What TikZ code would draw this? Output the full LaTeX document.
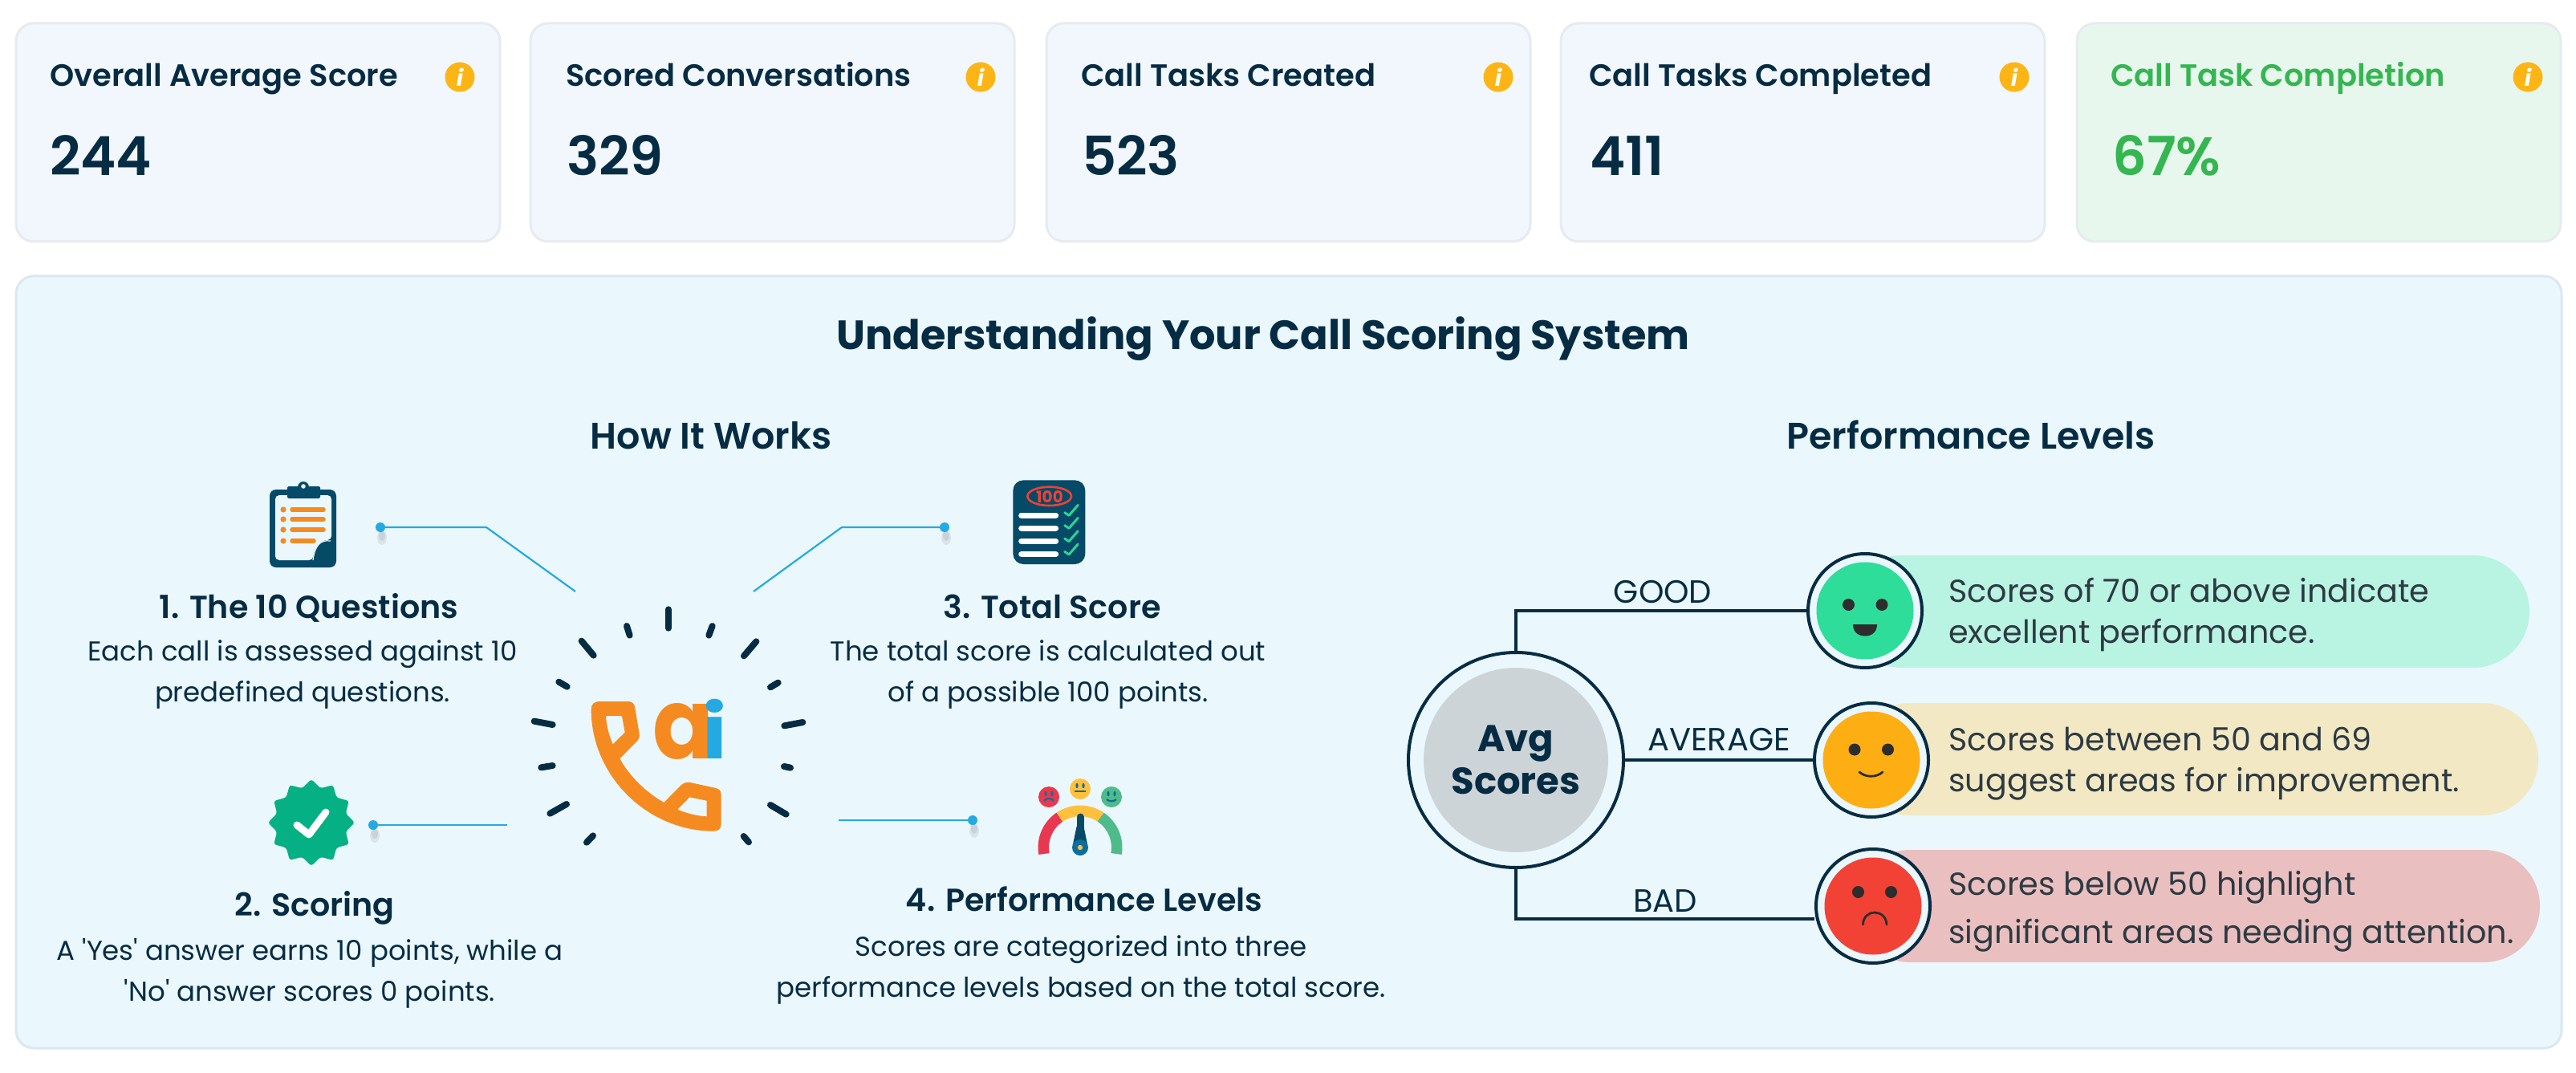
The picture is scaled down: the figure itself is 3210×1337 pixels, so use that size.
\documentclass[tikz,border=0pt]{standalone}
\usepackage{fontspec}
\usepackage{graphicx}
\setmainfont{Poppins}
\newfontfamily\semifont{Poppins SemiBold}
\newfontfamily\medfont{Poppins Medium}
\usetikzlibrary{shapes.geometric,shapes.misc}
\definecolor{ink}{HTML}{062C43}
\definecolor{deep}{HTML}{054A67}
\definecolor{cardfill}{HTML}{F2F7FE}
\definecolor{cardline}{HTML}{E6EBF0}
\definecolor{greenfill}{HTML}{E8F7ED}
\definecolor{greenink}{HTML}{34B650}
\definecolor{panelfill}{HTML}{EAF7FD}
\definecolor{panelline}{HTML}{DBE8EF}
\definecolor{amber}{HTML}{FDB515}
\definecolor{orng}{HTML}{F58B20}
\definecolor{sky}{HTML}{25A9E2}
\definecolor{emer}{HTML}{05B084}
\definecolor{redd}{HTML}{EF4136}
\definecolor{mint}{HTML}{2ED397}
\definecolor{gred}{HTML}{E8384F}
\definecolor{gyel}{HTML}{FFC13D}
\definecolor{ggrn}{HTML}{4FBB8A}
\definecolor{hub}{HTML}{0A6E9E}
\definecolor{facedark}{HTML}{2D2D2D}
\definecolor{bodyink}{HTML}{2D3A42}
\definecolor{pillgood}{RGB}{185,243,226}
\definecolor{pillavg}{RGB}{242,232,196}
\definecolor{pillbad}{RGB}{234,191,192}
\definecolor{hubgray}{RGB}{205,212,216}
\definecolor{facegood}{RGB}{46,221,154}
\definecolor{faceavg}{RGB}{253,174,19}
\definecolor{facebad}{RGB}{242,66,54}
\newcommand{\szf}[2]{\fontsize{#1}{#2}\selectfont}
\tikzset{
  x=1pt,y=-1pt,
  cardbox/.style={draw=cardline,line width=3pt,fill=cardfill,rounded corners=22pt,anchor=north west,minimum width=603pt,minimum height=272pt,inner sep=0pt,outer sep=0pt},
  infoicon/.style={circle,fill=amber,minimum size=37pt,inner sep=0pt,text=white,font=\szf{28}{28}\bfseries\itshape},
  cardhead/.style={anchor=base west,inner sep=0pt,text=ink,font=\szf{38.4}{38}\semifont},
  cardnum/.style={anchor=base west,inner sep=0pt,text=ink,font=\szf{67}{70}\semifont},
  subhead/.style={inner sep=0pt,anchor=base,text=ink,font=\szf{46}{46}\semifont},
  stephead/.style={inner sep=0pt,anchor=base,text=ink,font=\szf{39.6}{42}\semifont},
  stepbody/.style={inner sep=0pt,align=center,text=ink,font=\szf{34}{51}\selectfont},
  lead/.style={sky,line width=2.2pt},
  leaddot/.style={ellipse,fill=sky,minimum width=12pt,minimum height=12pt,inner sep=0pt,outer sep=0pt},
  tick/.style={ink,line width=8pt,line cap=round},
  ring/.style={circle,draw=ink,line width=4pt,fill=panelfill,inner sep=0pt,outer sep=0pt},
  facefill/.style={circle,inner sep=0pt,outer sep=0pt,minimum size=121pt},
  wire/.style={ink,line width=3.5pt},
  wirelabel/.style={inner sep=0pt,anchor=base,text=ink,font=\szf{40}{40}\selectfont},
  pilltext/.style={inner sep=0pt,anchor=west,align=left,text=bodyink,font=\szf{39.7}{51}\selectfont},
  faceeye/.style={ellipse,fill=facedark,minimum width=15pt,minimum height=15pt,inner sep=0pt},
  facemouth/.style={facedark,line width=2.8pt,line cap=round},
  gaugearc/.style={line width=13.5pt},
}
\begin{document}
\begin{tikzpicture}
\useasboundingbox (0,0) rectangle (3210,1337);
\fill[white] (0,0) rectangle (3210,1337);

% Top cards
\node[cardbox] (card1) at (20,29) {};
\node[cardbox] (card2) at (661,29) {};
\node[cardbox] (card3) at (1304,29) {};
\node[cardbox] (card4) at (1945,29) {};
\node[cardbox,fill=greenfill] (card5) at (2588,29) {};
\node[cardhead] (head1) at (62,108) {Overall Average Score};
\node[cardhead] (head2) at (705,108) {Scored Conversations};
\node[cardhead] (head3) at (1347,108) {Call Tasks Created};
\node[cardhead] (head4) at (1980,108) {Call Tasks Completed};
\node[cardhead,text=greenink] (head5) at (2630,108) {Call Task Completion};
\node[cardnum] (num1) at (62,219) {244};
\node[cardnum] (num2) at (706,219) {329};
\node[cardnum] (num3) at (1348,219) {523};
\node[cardnum] (num4) at (1981,219) {411};
\node[cardnum,text=greenink] (num5) at (2632,219) {67\%};
\node[infoicon] (info1) at (573,96) {i};
\node[infoicon] (info2) at (1222,96) {i};
\node[infoicon] (info3) at (1867,96) {i};
\node[infoicon] (info4) at (2510,96) {i};
\node[infoicon] (info5) at (3150,96) {i};

% Panel
\node[cardbox,draw=panelline,fill=panelfill,minimum width=3172pt,minimum height=962pt] (panel) at (20,344) {};
\node[inner sep=0pt,anchor=base,text=ink,font=\szf{51}{55}\bfseries] (title) at (1574,435.5) {Understanding Your Call Scoring System};
\node[subhead] (howit) at (886,559) {How It Works};
\node[subhead] (perf) at (2456,559) {Performance Levels};

% Step texts
\node[stephead] (s1h) at (385,770) {1. The 10 Questions};
\node[stepbody] (s1b) at (377,840) {Each call is assessed against 10\\predefined questions.};
\node[stephead] (s3h) at (1311,770) {3. Total Score};
\node[stepbody] (s3b) at (1306,840) {The total score is calculated out\\of a possible 100 points.};
\node[stephead] (s2h) at (392,1141) {2. Scoring};
\node[stepbody] (s2b) at (386,1213) {A \textquotesingle Yes\textquotesingle{} answer earns 10 points, while a\\\textquotesingle No\textquotesingle{} answer scores 0 points.};
\node[stephead] (s4h) at (1351,1135) {4. Performance Levels};
\node[stepbody] (s4b) at (1347,1208) {Scores are categorized into three\\performance levels based on the total score.};

% Lead lines
\foreach \dx/\dy in {474/657,1177/657,465/1028,1212/1022}{
  \fill[black,opacity=.07] (\dx+2,\dy+13) ellipse [x radius=6,y radius=9];
  \fill[black,opacity=.08] (\dx+2,\dy+11) ellipse [x radius=4,y radius=6];
}
\coordinate (e1) at (717,737);
\coordinate (k1) at (606,657);
\coordinate (e3) at (939,737);
\coordinate (k3) at (1049,657);
\coordinate (e2) at (632,1028);
\coordinate (e4) at (1045,1022);
\node[leaddot] (d1) at (474,657) {};
\node[leaddot] (d3) at (1177,657) {};
\node[leaddot] (d2) at (465,1028) {};
\node[leaddot] (d4) at (1212,1022) {};
\draw[lead] (d1) -- (k1) -- (e1);
\draw[lead] (d3) -- (k3) -- (e3);
\draw[lead] (d2) -- (e2);
\draw[lead] (e4) -- (d4);

% AI phone logo
\begin{scope}[shift={(620,720)},scale=0.33333]
  \foreach \ax/\ay/\bx/\by in {639/118/639/188,803/180/790/215,967/238/921/292,1049/392/1020/409,1141/540/1072/553,1095/710/1071/705,1079/884/1020/849,939/988/920/966,357/964/333/989,258/846/196/881,206/702/163/709,206/549/137/536,260/407/229/389,359/290/314/236,494/215/483/180}
    \draw[tick] (\ax,\ay) -- (\bx,\by);
  \fill[orng,even odd rule]
    (350,492) .. controls (350,472) and (362,462) .. (380,462) -- (488,462)
    .. controls (502,462) and (511,470) .. (513,482) -- (530,582)
    .. controls (532,596) and (528,604) .. (520,612) -- (457,676)
    .. controls (495,745) and (560,805) .. (622,840) -- (685,776)
    .. controls (695,767) and (705,763) .. (720,765) -- (812,785)
    .. controls (828,788) and (836,796) .. (836,812) -- (836,920)
    .. controls (836,938) and (826,947) .. (808,947)
    .. controls (560,947) and (350,740) .. (350,492) -- cycle
    (405,516) -- (465,516) -- (476,578) -- (431,622) .. controls (415,585) and (407,550) .. (405,516) -- cycle
    (718,820) -- (782,833) -- (782,892) .. controls (745,890) and (705,880) .. (673,866) -- cycle;
\end{scope}
\node[inner sep=0pt,anchor=base west,font=\szf{122}{122}\bfseries] (aimark) at (813,945) {\makebox[62pt][l]{\textcolor{orng}{\scalebox{0.92}[1]{a}}}\textcolor{sky}{\scalebox{0.85}[0.76]{i}}};

% Clipboard icon
\fill[deep,rounded corners=8pt] (336,610) rectangle (419,707);
\fill[panelfill,rounded corners=5pt] (343,617) -- (413,617) -- (413,673) .. controls (403,673) and (392,678) .. (390,698) -- (343,698) -- cycle;
\fill[deep] (413,673) .. controls (400,672) and (392,680) .. (390,698) .. controls (402,698) and (413,686) .. (413,673);
\draw[panelfill,line width=1.2pt] (412,674) .. controls (398,672) and (392,682) .. (390,698);
\fill[deep,rounded corners=2pt] (358,606) rectangle (399,621);
\fill[deep] (378,607) circle (7);
\fill[panelfill] (378,606) circle (2.8);
\foreach \ly/\lx in {635/403,647/403,660/403,674/391}{
  \fill[orng] (353,\ly) circle (3.6);
  \draw[orng,line width=5.5pt,line cap=round] (364,\ly) -- (\lx,\ly);
}

% Badge icon
\node[star,star points=12,star point ratio=1.22,minimum size=108pt,fill=emer,inner sep=0pt,rounded corners=3pt] (badge) at (388,1025) {};
\draw[white,line width=9pt,line cap=round,line join=round] (370,1028) -- (385,1040) -- (406,1012);

% Score sheet icon
\begin{scope}[shift={(1200,580)},scale=0.33333]
  \fill[deep,rounded corners=13pt] (187,55) rectangle (457,369);
  \draw[redd,line width=2.6pt] (323,115) ellipse [x radius=82,y radius=35];
  \foreach \ly in {186,234,283,332}{
    \draw[white,line width=7pt,line cap=round] (218,\ly) -- (347,\ly);
    \draw[mint,line width=3pt,line cap=round,line join=round] (380,\ly-10) -- (396,\ly+1) -- (430,\ly-38);
  }
\end{scope}
\node[inner sep=0pt,text=redd,font=\szf{20}{20}\bfseries] (hundred) at (1308,619) {100};

% Gauge icon
\foreach \fx/\fy/\fc in {1307/993/gred,1346/983/gyel,1385/993/ggrn}\fill[\fc] (\fx,\fy) circle (13);
\foreach \fx/\fy in {1303/989,1311/989,1342/979,1350/979,1381/989,1389/989}\fill[hub] (\fx,\fy) ellipse [x radius=1.6,y radius=3.2];
\draw[hub,line width=2.2pt] (1301,998) .. controls (1304,994) and (1310,994) .. (1313,998);
\draw[hub,line width=2.2pt] (1339,986) -- (1353,986);
\draw[hub,line width=2.2pt] (1379,996) .. controls (1382,999) and (1388,999) .. (1391,996);
\begin{scope}[shift={(1346,1056)},x=1pt,y=1pt]
  \draw[gaugearc,gred] (190:45.7) arc (190:124:45.7);
  \draw[gaugearc,gyel] (124:45.7) arc (124:56:45.7);
  \draw[gaugearc,ggrn] (56:45.7) arc (56:-10:45.7);
\end{scope}
\draw[deep,line width=9pt,line cap=round] (1346,1018) -- (1346,1050);
\fill[deep] (1341.5,1030) -- (1350.5,1030) -- (1355,1052) -- (1337,1052) -- cycle;
\fill[hub] (1346,1056) circle (10);
\fill[gyel] (1346,1056) circle (3.2);

% Performance pills
\path[fill=pillgood,rounded corners=70pt] (2300,692) rectangle (3152,832);
\path[fill=pillavg,rounded corners=70pt] (2310,876) rectangle (3163,1016);
\path[fill=pillbad,rounded corners=70pt] (2310,1059) rectangle (3165,1199);
\node[pilltext] (t1) at (2428,766) {Scores of 70 or above indicate\\excellent performance.};
\node[pilltext] (t2) at (2428,952) {Scores between 50 and 69\\suggest areas for improvement.};
\node[pilltext,font=\szf{39.7}{60}\selectfont] (t3) at (2428,1136) {Scores below 50 highlight\\significant areas needing attention.};

% Avg hub and faces
\node[ring,minimum size=268pt] (avg) at (1889,947) {};
\node[circle,inner sep=0pt,minimum size=230pt,fill=hubgray,align=center,text=ink,font=\szf{46.5}{53}\bfseries] (avgtext) at (1889,947) {Avg\\Scores};
\node[ring,minimum size=142pt] (fgood) at (2324,761) {};
\node[ring,minimum size=142pt] (favg) at (2332,947) {};
\node[ring,minimum size=142pt] (fbad) at (2334,1129) {};
\node[facefill,fill=facegood] (fgoodin) at (fgood) {};
\node[facefill,fill=faceavg] (favgin) at (favg) {};
\node[facefill,fill=facebad] (fbadin) at (fbad) {};
\node[faceeye] (ge1) at (2303.5,753.5) {};
\node[faceeye] (ge2) at (2345,753.5) {};
\fill[facedark] (2309,778) -- (2339,778) .. controls (2339,788) and (2332,792.5) .. (2324,792.5) .. controls (2316,792.5) and (2309,788) .. (2309,778) -- cycle;
\node[faceeye] (ae1) at (2311,934) {};
\node[faceeye] (ae2) at (2352.5,934) {};
\draw[facemouth] (2317,962) .. controls (2325,969) and (2338,969) .. (2346,962);
\node[faceeye] (be1) at (2315.5,1111.5) {};
\node[faceeye] (be2) at (2356.5,1111.5) {};
\draw[facemouth] (2321.5,1152) .. controls (2322,1132) and (2350,1132) .. (2351,1152);

% Wires
\coordinate (badend) at (2261,1145);
\draw[wire] (avg.north) |- (fgood.west);
\draw[wire] (avg.east) -- (favg.west);
\draw[wire] (avg.south) |- (badend);
\node[wirelabel] (lg) at (2072,751) {GOOD};
\node[wirelabel] (la) at (2142,935) {AVERAGE};
\node[wirelabel] (lb) at (2075,1136) {BAD};
\end{tikzpicture}
\end{document}
